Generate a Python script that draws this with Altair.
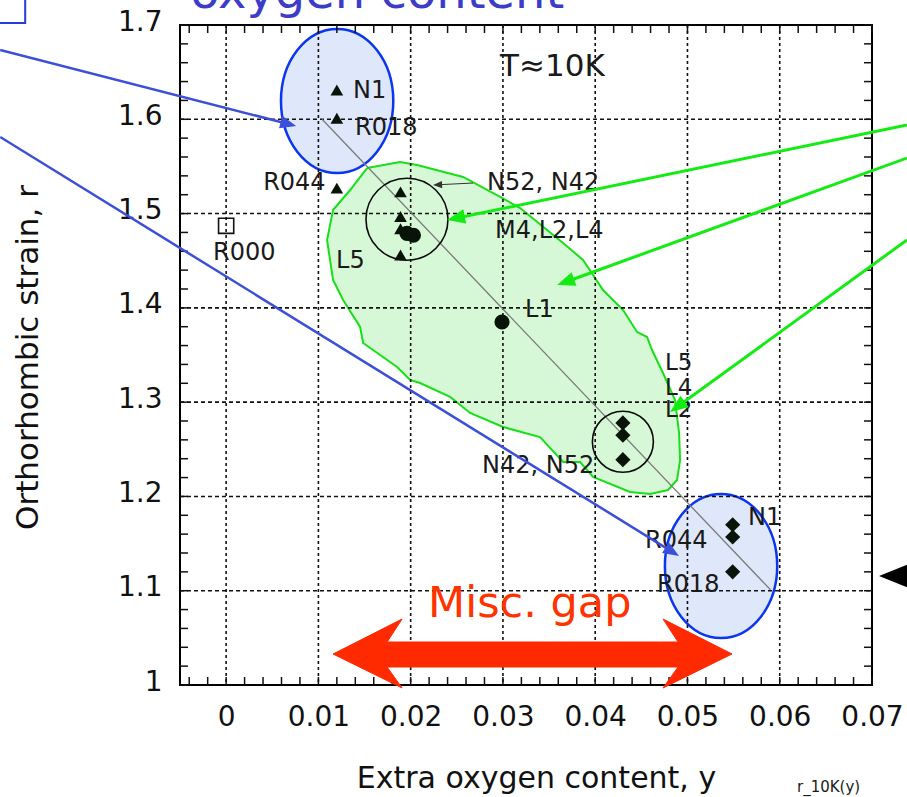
import math
import altair as alt
import numpy as np
import pandas as pd

# ---------------- scale / layout ----------------
X_DOMAIN = [-0.005, 0.07]
Y_DOMAIN = [1.0, 1.7]
W, H = 692, 660
PXX = W / (X_DOMAIN[1] - X_DOMAIN[0])
PXY = H / (Y_DOMAIN[1] - Y_DOMAIN[0])
FONT = "DejaVu Sans"

# ---------------- data ----------------
tri_x = [0.012, 0.012, 0.012, 0.0189, 0.0189, 0.0189, 0.0189]
tri_y = [1.631, 1.601, 1.527, 1.523, 1.497, 1.484, 1.456]
circ_x = [0.0196, 0.0203, 0.0299]
circ_y = [1.479, 1.477, 1.385]
dia_x = [0.0430, 0.0430, 0.0430, 0.0549, 0.0549, 0.0549]
dia_y = [1.278, 1.265, 1.239, 1.170, 1.157, 1.120]
sq_x = [0.0]
sq_y = [1.487]

x_major = [0, 0.01, 0.02, 0.03, 0.04, 0.05, 0.06, 0.07]
y_major = [1.0, 1.1, 1.2, 1.3, 1.4, 1.5, 1.6, 1.7]
grid_x = [0, 0.01, 0.02, 0.03, 0.04, 0.05, 0.06]
grid_y = [1.1, 1.2, 1.3, 1.4, 1.5, 1.6]
minor_x = [round(v, 4) for v in np.arange(-0.004, 0.0701, 0.002)]
minor_y = [round(v, 3) for v in np.arange(1.0, 1.7001, 0.02)]

# trend line
trend_x = [0.0104, 0.0590]
trend_y = [1.600, 1.101]

# green region outline
blob_x = [0.01528, 0.01885, 0.02070, 0.02568, 0.02969, 0.03186, 0.03652, 0.03868,
          0.04085, 0.04302, 0.04454, 0.04562, 0.04616, 0.04735, 0.04865, 0.04909,
          0.04920, 0.04887, 0.04789, 0.04594, 0.04378, 0.03977, 0.03836, 0.03652,
          0.03402, 0.03002, 0.02644, 0.02427, 0.02102, 0.01994, 0.01853, 0.01485,
          0.01452, 0.01268, 0.01159, 0.01094, 0.01159, 0.01344, 0.01528]
blob_y = [1.5483, 1.5547, 1.5515, 1.5388, 1.5176, 1.5059, 1.4688, 1.4508,
          1.4189, 1.3977, 1.3744, 1.3691, 1.3553, 1.3309, 1.3023, 1.2673,
          1.2386, 1.2174, 1.2068, 1.2026, 1.2047, 1.2206, 1.2365, 1.2365,
          1.2630, 1.2736, 1.2885, 1.3055, 1.3203, 1.3235, 1.3373, 1.3627,
          1.3797, 1.4083, 1.4295, 1.4720, 1.5038, 1.5250, 1.5483]

# blue ellipses (centre)
ell_x = [0.01203, 0.05364]
ell_y = [1.6194, 1.1262]
# black circles (centre, diameter px)
ring_x = [0.0196, 0.0430]
ring_y = [1.494, 1.258]
ring_d = [82, 61]

# red double arrow outline
red_x = [0.01159, 0.01907, 0.01745, 0.04898, 0.04735, 0.05483, 0.04735, 0.04898,
         0.01745, 0.01907, 0.01159]
red_y = [1.03288, 1.07000, 1.04561, 1.04561, 1.07000, 1.03288, 0.99682, 1.01910,
         1.01910, 0.99682, 1.03288]

# arrows: start -> tip
arr_x1 = [-0.02449, -0.02449, 0.07379, 0.07379, 0.07379, 0.07379, 0.02676]
arr_y1 = [1.6735, 1.5812, 1.5939, 1.5589, 1.4720, 1.1156, 1.5324]
arr_x2 = [0.00759, 0.04909, 0.02395, 0.03587, 0.04811, 0.07076, 0.02243]
arr_y2 = [1.5929, 1.1368, 1.4932, 1.4242, 1.2895, 1.1156, 1.5303]
arr_col = ["#3b4fd8", "#3b4fd8", "#12ec12", "#12ec12", "#12ec12", "#000000", "#333333"]
arr_w = [2.5, 2.5, 3, 3, 3, 3, 1]
arr_head = [16, 16, 18, 18, 18, 28, 9]

# text labels
lab_text = ["N1", "R018", "R044", "R000", "N52, N42", "M4,L2,L4", "L5", "L1",
            "L5", "L4", "L2", "N42, N52", "N1", "R044", "R018", "T≈10K",
            "Misc. gap", "r_10K(y)", "oxygen content"]
lab_x = [0.01376, 0.01398, 0.00401, -0.00141, 0.02828, 0.02915, 0.01192, 0.03240,
         0.04757, 0.04757, 0.04757, 0.02774, 0.05656, 0.04540, 0.04670, 0.02969,
         0.02189, 0.06187, -0.0039]
lab_y = [1.6226, 1.5833, 1.5250, 1.4508, 1.5250, 1.4741, 1.4423, 1.3903,
         1.3341, 1.3076, 1.2842, 1.2248, 1.1697, 1.1453, 1.0986, 1.6459,
         1.0721, 0.8865, 1.7180]
lab_size = [24, 24, 24, 24, 24, 24, 24, 24, 23, 23, 23, 24, 24, 24, 24, 31,
            43, 15, 48]
lab_col = ["#1a1a1a"] * 15 + ["#1a1a1a", "#ff3300", "#1a1a1a", "#3c3cc8"]

# ---------------- encodings ----------------
xs = alt.Scale(domain=X_DOMAIN, nice=False, zero=False)
ys = alt.Scale(domain=Y_DOMAIN, nice=False, zero=False)

x_axis = alt.Axis(
    title="Extra oxygen content, y", values=x_major,
    labelExpr="datum.value == 0 ? '0' : format(datum.value, '.2f')",
    ticks=False, tickSize=0, domain=False, grid=False,
    labelFont=FONT, labelFontSize=28, labelColor="#111111", labelPadding=40,
    labelBaseline="alphabetic", labelFlush=False, labelOverlap=False, labelBound=False,
    titleFont=FONT, titleFontSize=30, titleFontWeight="normal", titleColor="#111111",
    titleX=W / 2 + 10, titleY=102, titleBaseline="alphabetic", titleAlign="center",
)
y_axis = alt.Axis(
    title="Orthorhombic strain, r", values=y_major,
    labelExpr="datum.value == 1 ? '1' : format(datum.value, '.1f')",
    ticks=False, tickSize=0, domain=False, grid=False,
    labelFont=FONT, labelFontSize=28, labelColor="#111111", labelPadding=18,
    labelOffset=-3, labelFlush=False, labelOverlap=False, labelBound=False,
    titleFont=FONT, titleFontSize=31, titleFontWeight="normal", titleColor="#111111",
    titleX=-152, titleY=332, titleBaseline="middle", titleAlign="center", titleAngle=270,
)


def X(f="x"):
    return alt.X(f"{f}:Q", scale=xs, axis=x_axis)


def Y(f="y"):
    return alt.Y(f"{f}:Q", scale=ys, axis=y_axis)


# ---------------- tables ----------------
blob_df = pd.DataFrame({"x": blob_x, "y": blob_y, "i": range(len(blob_x))})
red_df = pd.DataFrame({"x": red_x, "y": red_y, "i": range(len(red_x))})
ell_df = pd.DataFrame({"x": ell_x, "y": ell_y})
ring_df = pd.DataFrame({"x": ring_x, "y": ring_y, "s": [d * d for d in ring_d]})
trend_df = pd.DataFrame({"x": trend_x, "y": trend_y})
gx_df = pd.DataFrame({"x": grid_x})
gy_df = pd.DataFrame({"y": grid_y})
mx_df = pd.DataFrame({"x": minor_x})
my_df = pd.DataFrame({"y": minor_y})
tri_df = pd.DataFrame({"x": tri_x, "y": tri_y})
circ_df = pd.DataFrame({"x": circ_x, "y": circ_y})
dia_df = pd.DataFrame({"x": dia_x, "y": dia_y})
sq_df = pd.DataFrame({"x": sq_x, "y": sq_y})
lab_df = pd.DataFrame({"x": lab_x, "y": lab_y, "t": lab_text, "fs": lab_size, "c": lab_col})

# arrow geometry (head orientation in screen space, shaft stops inside head)
rows = []
for x1, y1, x2, y2, c, w, hl in zip(arr_x1, arr_y1, arr_x2, arr_y2, arr_col, arr_w, arr_head):
    dx = (x2 - x1) * PXX
    dy = -(y2 - y1) * PXY
    L = math.hypot(dx, dy)
    ang = math.degrees(math.atan2(dx, -dy)) % 360
    back = 0.5 * hl / L
    xe = x2 - (x2 - x1) * back
    ye = y2 - (y2 - y1) * back
    rows.append({"x": x1, "y": y1, "x2": xe, "y2": ye, "tx": x2, "ty": y2,
                 "c": c, "w": w, "ang": ang, "hs": hl * hl})
arr_df = pd.DataFrame(rows)

ELLIPSE = "M-0.78,0A0.78,1,0,1,1,0.78,0A0.78,1,0,1,1,-0.78,0Z"
HEAD = "M0,0L0.8,2L-0.8,2Z"
MARK = "#081408"

# ---------------- layers ----------------
blob = alt.Chart(blob_df).mark_line(
    fill="#d7f8d7", stroke="#17e017", strokeWidth=2, clip=False
).encode(x=X(), y=Y(), order="i:Q")

ellipses = alt.Chart(ell_df).mark_point(
    shape=ELLIPSE, size=144 * 144, filled=True, fill="#dfe7fb", stroke="#0a36f0",
    strokeWidth=2.5, opacity=1
).encode(x=X(), y=Y())

grid_v = alt.Chart(gx_df).mark_rule(
    color="#111111", strokeWidth=1.6, strokeDash=[3, 3]
).encode(x=X(), y=alt.value(0), y2=alt.value(H))

grid_h = alt.Chart(gy_df).mark_rule(
    color="#111111", strokeWidth=1.6, strokeDash=[4, 3]
).encode(y=Y(), x=alt.value(0), x2=alt.value(W))

tick_b = alt.Chart(mx_df).mark_rule(color="#111111", strokeWidth=1.5).encode(
    x=X(), y=alt.value(H), y2=alt.value(H - 8))
tick_t = alt.Chart(mx_df).mark_rule(color="#111111", strokeWidth=1.5).encode(
    x=X(), y=alt.value(0), y2=alt.value(8))
tick_l = alt.Chart(my_df).mark_rule(color="#111111", strokeWidth=1.5).encode(
    y=Y(), x=alt.value(0), x2=alt.value(8))
tick_r = alt.Chart(my_df).mark_rule(color="#111111", strokeWidth=1.5).encode(
    y=Y(), x=alt.value(W), x2=alt.value(W - 8))

trend = alt.Chart(trend_df).mark_line(color="#7a7a7a", strokeWidth=1.3).encode(x=X(), y=Y())

rings = alt.Chart(ring_df).mark_point(
    shape="circle", filled=False, stroke="#0a0a0a", strokeWidth=1.6, opacity=1
).encode(x=X(), y=Y(), size=alt.Size("s:Q", scale=None))

tris = alt.Chart(tri_df).mark_point(
    shape="triangle-up", filled=True, color=MARK, size=160, opacity=1
).encode(x=X(), y=Y())
circs = alt.Chart(circ_df).mark_point(
    shape="circle", filled=True, color=MARK, size=230, opacity=1
).encode(x=X(), y=Y())
dias = alt.Chart(dia_df).mark_point(
    shape="diamond", filled=True, color=MARK, size=230, opacity=1
).encode(x=X(), y=Y())
sqs = alt.Chart(sq_df).mark_point(
    shape="square", filled=False, color="#111111", strokeWidth=1.6, size=230, opacity=1
).encode(x=X(), y=Y())

labels = alt.Chart(lab_df).mark_text(
    align="left", baseline="alphabetic", font=FONT
).encode(
    x=X(), y=Y(), text="t:N",
    size=alt.Size("fs:Q", scale=None), color=alt.Color("c:N", scale=None),
)

red = alt.Chart(red_df).mark_line(
    fill="#ff2a00", stroke="#ff2a00", strokeWidth=1, clip=False
).encode(x=X(), y=Y(), order="i:Q")

shafts = alt.Chart(arr_df).mark_rule(clip=False).encode(
    x=X(), y=Y(), x2="x2:Q", y2="y2:Q",
    color=alt.Color("c:N", scale=None), strokeWidth=alt.StrokeWidth("w:Q", scale=None),
)
heads = alt.Chart(arr_df).mark_point(
    shape=HEAD, filled=True, opacity=1, clip=False
).encode(
    x=X("tx"), y=Y("ty"),
    color=alt.Color("c:N", scale=None),
    angle=alt.Angle("ang:Q", scale=None),
    size=alt.Size("hs:Q", scale=None),
)

box = alt.Chart(pd.DataFrame({"x": [-0.0300], "x2": [-0.02178], "y": [1.7021], "y2": [1.7600]})).mark_rect(
    fillOpacity=0, stroke="#2a3ad8", strokeWidth=2, clip=False
).encode(x=X(), x2="x2:Q", y=Y(), y2="y2:Q")

chart = alt.layer(
    blob, ellipses, grid_v, grid_h, tick_b, tick_t, tick_l, tick_r, trend, rings,
    tris, circs, dias, sqs, labels, red, shafts, heads, box,
).properties(
    width=W, height=H,
    autosize=alt.AutoSizeParams(type="none"),
    padding={"left": 180, "top": 25, "right": 35, "bottom": 112},
    background="white",
).configure_view(
    stroke="#000000", strokeWidth=2
)

chart.save("out.html", embed_options={"renderer": "svg", "actions": False})
